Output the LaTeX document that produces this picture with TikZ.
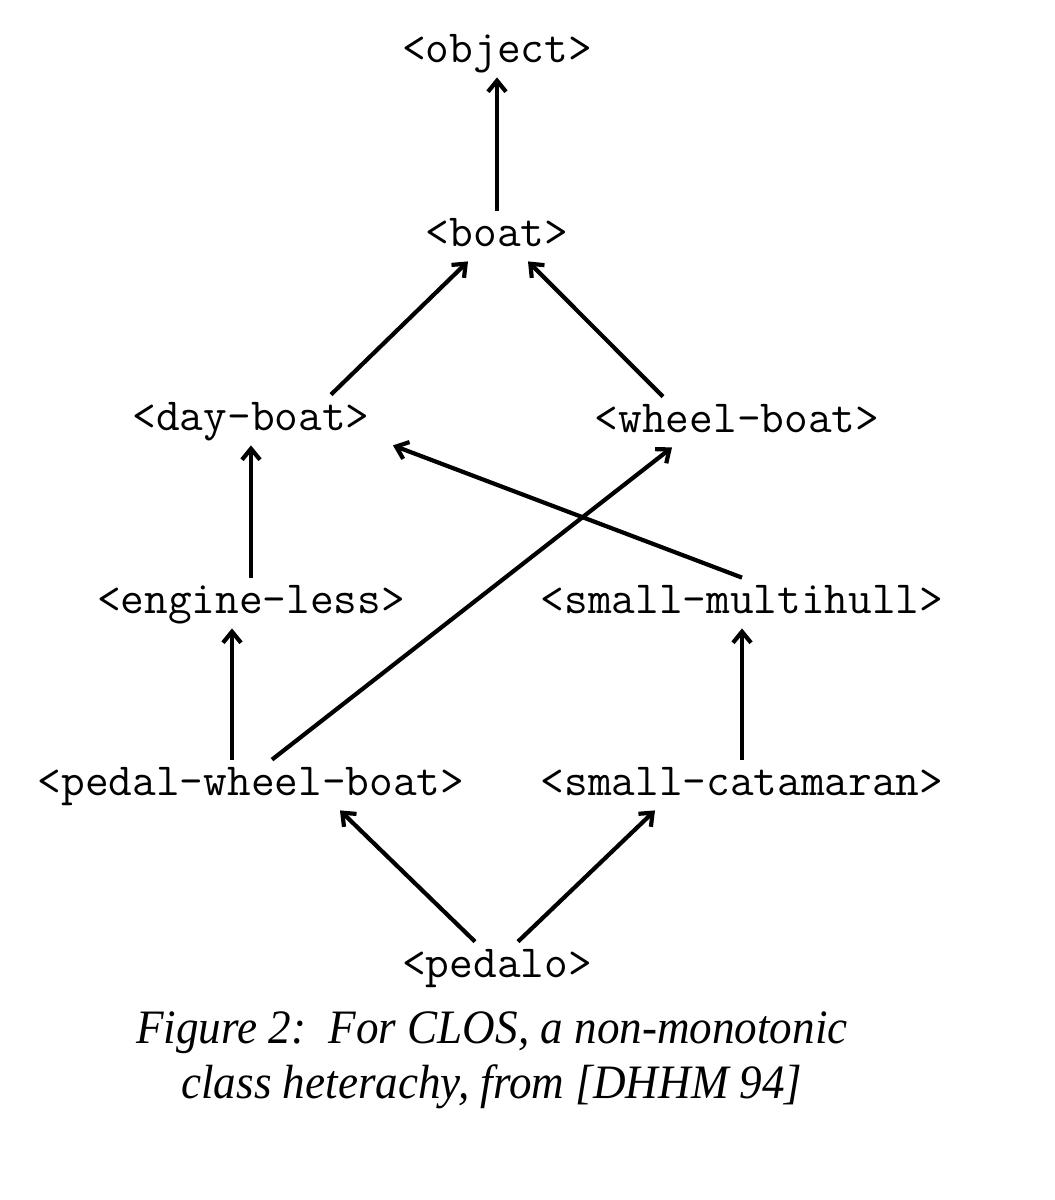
\documentclass[tikz,border=0pt]{standalone}
\usepackage{fontspec}
\setmainfont{Liberation Serif}
\usetikzlibrary{arrows.meta}

\tikzset{
    cls/.style={font=\ttfamily\fontsize{23pt}{27pt}\selectfont, inner sep=0pt,
        text height=17.5pt, text depth=7.5pt},
    isa/.style={line width=2.1pt, -{Straight Barb[length=5.5pt,width=9pt]}},
    capt/.style={font=\itshape\fontsize{24pt}{28pt}\selectfont\addfontfeature{FakeStretch=0.94},
        inner sep=0pt, anchor=base}
}

\begin{document}
\begin{tikzpicture}[x=0.5pt, y=-0.5pt]
        \useasboundingbox (0, 0) rectangle (1055, 1200);
        % classes
        \node[cls, anchor=base] (object) at (497, 62) {<object>};
        \node[cls, anchor=base] (boat) at (497, 246) {<boat>};
        \node[cls, anchor=base] (dayboat) at (251, 430) {<day-boat>};
        \node[cls, anchor=base] (wheelboat) at (737, 432) {<wheel-boat>};
        \node[cls, anchor=base] (engineless) at (251, 613) {<engine-less>};
        \node[cls, anchor=base] (multihull) at (742, 613) {<small-multihull>};
        \node[cls, anchor=base] (pwb) at (251, 795) {<pedal-wheel-boat>};
        \node[cls, anchor=base] (catamaran) at (742, 795) {<small-catamaran>};
        \node[cls, anchor=base] (pedalo) at (497, 977) {<pedalo>};
        % superclass links
        \draw[isa] (boat.north) -- (object.south);
        \draw[isa] ([xshift=40pt]dayboat.north) -- ([xshift=-14.5pt]boat.south);
        \draw[isa] ([xshift=-37pt]wheelboat.north) -- ([xshift=15.5pt]boat.south);
        \draw[isa] (engineless.north) -- (dayboat.south);
        \draw[isa] (multihull.north) -- ([xshift=71pt]dayboat.south);
        \draw[isa] ([xshift=10.5pt]pwb.north) -- ([xshift=-32.5pt]wheelboat.south);
        \draw[isa] ([xshift=-9.5pt]pwb.north) -- ([xshift=-9.5pt]engineless.south);
        \draw[isa] (catamaran.north) -- (multihull.south);
        \draw[isa] ([xshift=-11pt]pedalo.north) -- ([xshift=44.5pt]pwb.south);
        \draw[isa] ([xshift=10.5pt]pedalo.north) -- ([xshift=-43.5pt]catamaran.south);
        % caption
        \node[capt] (cap1) at (492, 1043) {Figure 2:\ \ For CLOS, a non-monotonic};
        \node[capt] (cap2) at (492, 1098) {class heterachy, from [DHHM 94]};
\end{tikzpicture}
\end{document}
